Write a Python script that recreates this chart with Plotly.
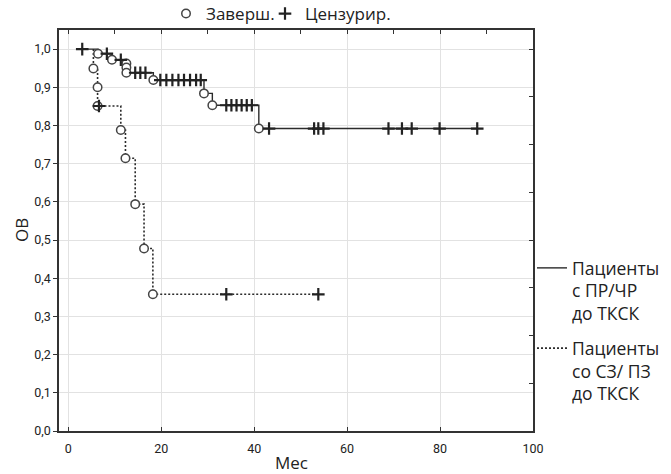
import plotly.graph_objects as go

# ---- data ----
# Group 1: Пациенты с ПР/ЧР до ТКСК (solid)
solid_start_t = 3.0
solid_event_t = [6.4, 9.4, 12.5, 12.5, 12.5, 18.3, 29.2, 31.0, 41.0]
solid_event_s = [0.988, 0.972, 0.962, 0.952, 0.938, 0.919, 0.884, 0.853, 0.792]
solid_cens_t = [3.0, 8.3, 11.3, 14.4, 15.5, 16.6, 19.8, 21.1, 22.4, 23.7, 24.9, 26.2,
                27.5, 28.5, 34.0, 35.1, 36.2, 37.3, 38.4, 39.5, 43.2, 52.9, 53.8, 54.9,
                68.9, 71.8, 73.9, 79.9, 88.0]
solid_cens_s = [1.0, 0.988, 0.972, 0.938, 0.938, 0.938, 0.919, 0.919, 0.919, 0.919,
                0.919, 0.919, 0.919, 0.919, 0.853, 0.853, 0.853, 0.853, 0.853, 0.853,
                0.792, 0.792, 0.792, 0.792, 0.792, 0.792, 0.792, 0.792, 0.792]

# Group 2: Пациенты со СЗ/ПЗ до ТКСК (dashed)
dash_start_t = 5.4
dash_event_t = [5.4, 6.3, 6.3, 11.3, 12.3, 14.4, 16.3, 18.2]
dash_event_s = [0.949, 0.900, 0.851, 0.788, 0.714, 0.594, 0.478, 0.358]
dash_cens_t = [6.6, 34.0, 53.8]
dash_cens_s = [0.851, 0.358, 0.358]

x_ticks = [0, 20, 40, 60, 80, 100]
y_ticks = [0.0, 0.1, 0.2, 0.3, 0.4, 0.5, 0.6, 0.7, 0.8, 0.9, 1.0]

name_solid = "Пациенты<br>с ПР/ЧР<br>до ТКСК"
name_dash = "Пациенты<br>со СЗ/ ПЗ<br>до ТКСК"

LINE = "#2b2b2b"
FONT = "Open Sans"


def km_path(start_t, ev_t, ev_s, end_t):
    xs = [start_t] + list(ev_t) + [end_t]
    ys = [1.0] + list(ev_s) + [ev_s[-1]]
    return xs, ys


sx, sy = km_path(solid_start_t, solid_event_t, solid_event_s, max(solid_cens_t))
dx, dy = km_path(dash_start_t, dash_event_t, dash_event_s, max(dash_cens_t))

fig = go.Figure()

fig.add_trace(go.Scatter(x=sx, y=sy, mode="lines", line=dict(color=LINE, width=1.4, shape="hv"),
                         name=name_solid, legend="legend", legendgroup="g1", hoverinfo="skip"))
fig.add_trace(go.Scatter(x=dx, y=dy, mode="lines",
                         line=dict(color=LINE, width=1.6, shape="hv", dash="2px,2px"),
                         name=name_dash, legend="legend", legendgroup="g2", hoverinfo="skip"))

circ = dict(symbol="circle", size=8.5, color="white", line=dict(color="#444444", width=1.5))
cross = dict(symbol="cross-thin", size=9, color="#222222", line=dict(color="#222222", width=2.2))

fig.add_trace(go.Scatter(x=solid_event_t, y=solid_event_s, mode="markers", marker=circ,
                         name="Заверш.", legend="legend2", showlegend=True))
fig.add_trace(go.Scatter(x=dash_event_t, y=dash_event_s, mode="markers", marker=circ,
                         showlegend=False))
fig.add_trace(go.Scatter(x=solid_cens_t, y=solid_cens_s, mode="markers", marker=cross,
                         name="Цензурир.", legend="legend3", showlegend=True))
fig.add_trace(go.Scatter(x=dash_cens_t, y=dash_cens_s, mode="markers", marker=cross,
                         showlegend=False))
# invisible helper so the mirror axes are drawn
fig.add_trace(go.Scatter(x=[0], y=[0], xaxis="x2", yaxis="y2", mode="markers",
                         marker=dict(opacity=0), showlegend=False, hoverinfo="skip"))

# body margin is removed by post_script, so window pixels == figure pixels
W, H = 671, 474
PL, PR, PT, PB = 59, 533, 30, 431          # plot box in window pixels
L, T = PL, PT
R, B = W - PR, H - PB
PW, PH = PR - PL, PB - PT


def px_x(p):
    return (p - PL) / PW


def px_y(p):
    return (PB - p) / PH


fig.update_layout(
    width=W, height=H,
    margin=dict(l=L, r=R, t=T, b=B, autoexpand=False),
    paper_bgcolor="white", plot_bgcolor="white",
    separators=", ",
    font=dict(family=FONT, color="#222222"),
    xaxis=dict(range=[-2, 100], tickvals=x_ticks, ticks="inside", ticklen=4,
               tickcolor="#333", showline=True, linecolor="#333", linewidth=1.5,
               showgrid=True, gridcolor="#e2e2e2", gridwidth=1, zeroline=False,
               tickfont=dict(family="Roboto", size=12.5), ticklabelstandoff=5),
    yaxis=dict(range=[0, 1.05], tickvals=y_ticks, tickformat=".1f", ticks="outside",
               ticklen=4, tickcolor="#333", showline=True, linecolor="#333", linewidth=1.5,
               showgrid=True, gridcolor="#e2e2e2", gridwidth=1, zeroline=False,
               tickfont=dict(family="Roboto", size=12.5)),
    xaxis2=dict(overlaying="x", side="top", range=[-2, 100], dtick=10, tick0=0,
                ticks="inside", ticklen=4, tickcolor="#333", showticklabels=False,
                showline=True, linecolor="#333", linewidth=1.5, showgrid=False, zeroline=False),
    yaxis2=dict(overlaying="y", side="right", range=[0, 1.05], dtick=0.125, tick0=0,
                ticks="inside", ticklen=4, tickcolor="#333", showticklabels=False,
                showline=True, linecolor="#333", linewidth=1.5, showgrid=False, zeroline=False),
    legend=dict(x=px_x(532), xanchor="left", y=px_y(250), yanchor="top", valign="top",
                bgcolor="rgba(0,0,0,0)", borderwidth=0, font=dict(family=FONT, size=17.5),
                traceorder="grouped", tracegroupgap=9, itemwidth=30),
    legend2=dict(x=px_x(166), xanchor="left", y=px_y(14), yanchor="middle", orientation="h",
                 bgcolor="rgba(0,0,0,0)", borderwidth=0, font=dict(family=FONT, size=17),
                 itemwidth=30),
    legend3=dict(x=px_x(265), xanchor="left", y=px_y(14), yanchor="middle", orientation="h",
                 bgcolor="rgba(0,0,0,0)", borderwidth=0, font=dict(family=FONT, size=17),
                 itemwidth=30),
    annotations=[
        dict(text="Мес", xref="paper", yref="paper", x=px_x(291), y=px_y(463),
             xanchor="center", yanchor="middle", showarrow=False,
             font=dict(family=FONT, size=17)),
        dict(text="ОВ", xref="paper", yref="paper", x=px_x(21), y=px_y(230),
             xanchor="center", yanchor="middle", showarrow=False, textangle=-90,
             font=dict(family=FONT, size=17)),
    ],
)

fig.write_html("out.html",
               config={"displayModeBar": False},
               post_script="document.body.style.margin='0';document.body.style.overflow='hidden';")
